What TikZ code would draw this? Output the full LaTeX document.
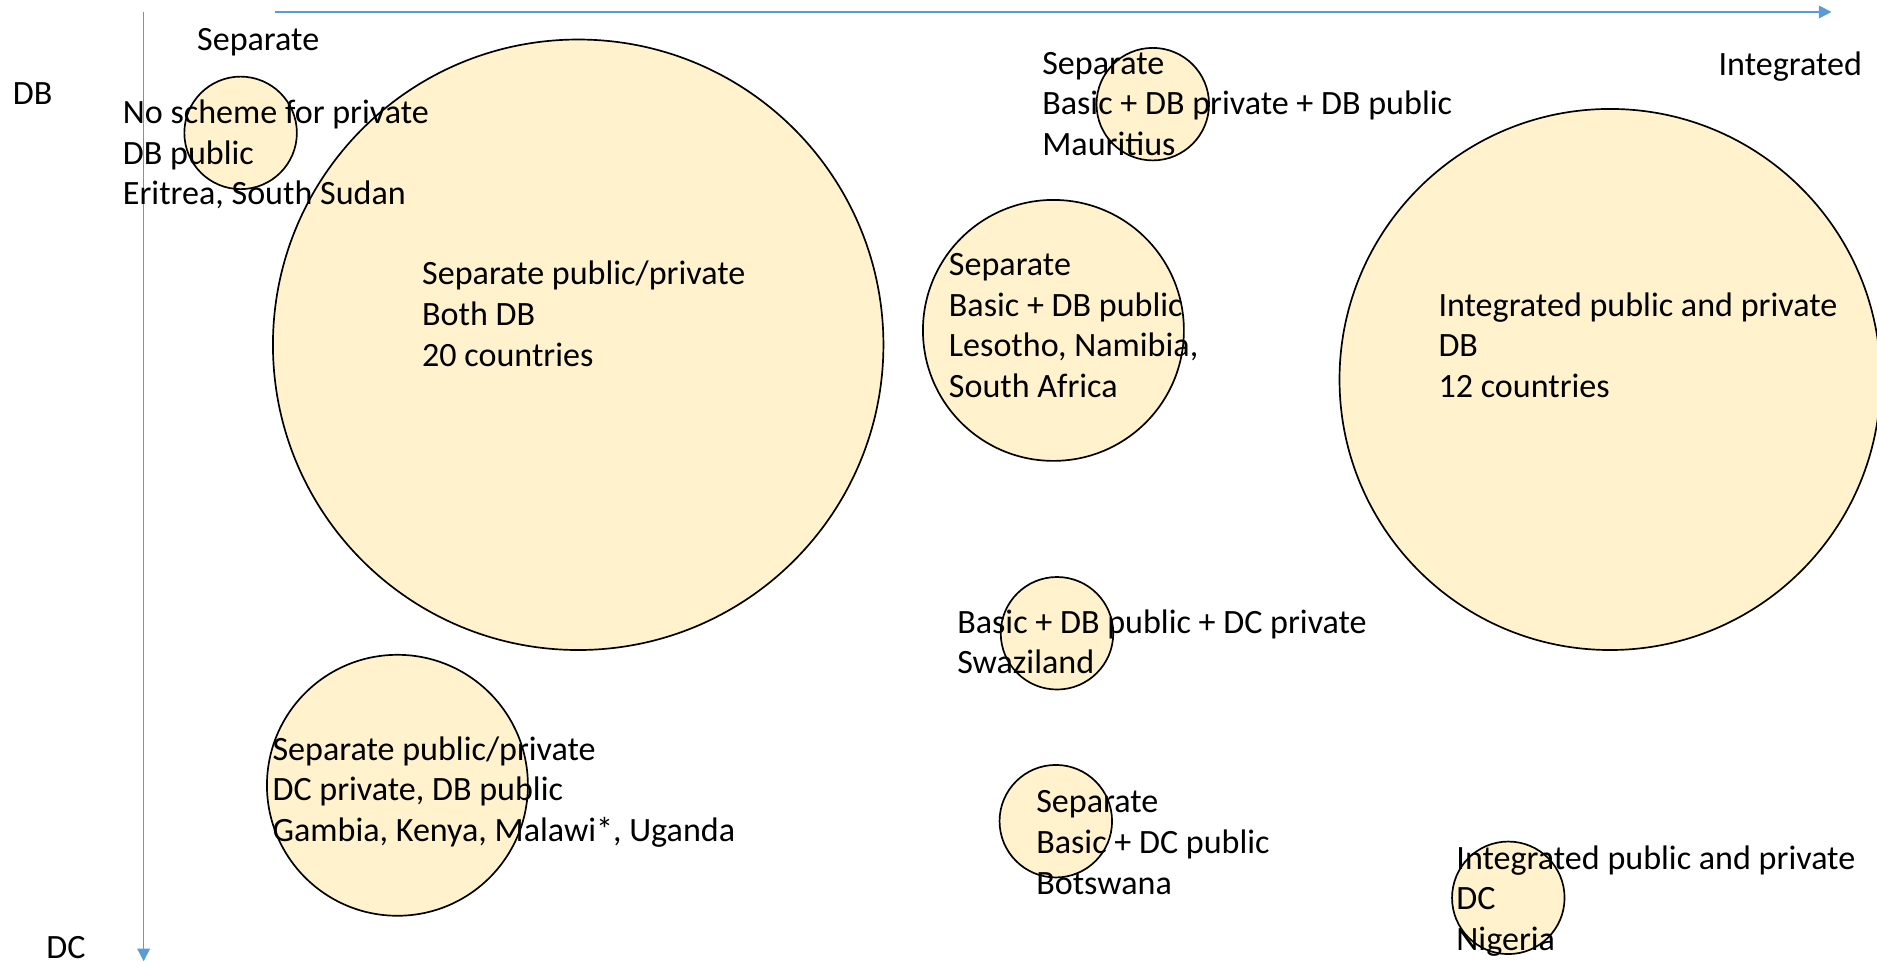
\documentclass[tikz,border=0pt]{standalone}
\usepackage{fontspec}
\setmainfont{Carlito}
\usetikzlibrary{arrows.meta, positioning}
\definecolor{bubfill}{HTML}{FFF2CC}
\definecolor{axblue}{HTML}{5B9BD5}

\begin{document}
\begin{tikzpicture}[
    x=0.1mm, y=-0.1mm,
    bub/.style={circle, draw=black, line width=0.4pt, fill=bubfill, inner sep=0pt, minimum size=#1},
    lbl/.style={anchor=base west, align=left, inner sep=0pt, font=\fontsize{8.1}{9.67}\selectfont},
    ax/.style={draw=axblue, line width=0.35pt, -{Triangle[width=3pt,length=3pt]}}
]
    \useasboundingbox (0,0) rectangle (1568,804);

    % axes
    \coordinate (vtop) at (120,10);
    \coordinate (vbot) at (120,803);
    \coordinate (hleft) at (230,10);
    \coordinate (hright) at (1530,10);
    \draw[ax] (vtop) -- (vbot);
    \draw[ax] (hleft) -- (hright);

    \node[lbl] (db)    at (10,87)    {DB};
    \node[lbl] (dc)    at (38,801)   {DC};
    \node[lbl] (sep)   at (164,42)   {Separate};
    \node[lbl] (integ) at (1435,63)  {Integrated};

    % bubbles
    \node[bub=9.4mm]  (eritrea)   at (201,111)  {};
    \node[bub=51mm]   (bothdb)    at (483,288)  {};
    \node[bub=9.4mm]  (mauritius) at (963,87)   {};
    \node[bub=21.8mm] (lesotho)   at (880,276)  {};
    \node[bub=45.2mm] (intdb)     at (1345,317) {};
    \node[bub=9.4mm]  (swazi)     at (883,529)  {};
    \node[bub=21.8mm] (kenya)     at (332,656)  {};
    \node[bub=9.4mm]  (botswana)  at (882,686)  {};
    \node[bub=9.4mm]  (nigeria)   at (1260,750) {};

    % bubble texts (anchored at the last line)
    \node[lbl] (eritreatxt)   at (102,171)  {No scheme for private\\DB public\\Eritrea, South Sudan};
    \node[lbl] (bothdbtxt)    at (352,306)  {Separate public/private\\Both DB\\20 countries};
    \node[lbl] (mauritiustxt) at (870,130)  {Separate\\Basic + DB private + DB public\\Mauritius};
    \node[lbl] (lesothotxt)   at (792,332)  {Separate\\Basic + DB public\\Lesotho, Namibia,\\South Africa};
    \node[lbl] (intdbtxt)     at (1201,332) {Integrated public and private\\DB\\12 countries};
    \node[lbl] (swazitxt)     at (799,563)  {Basic + DB public + DC private\\Swaziland};
    \node[lbl] (kenyatxt)     at (227,703)  {Separate public/private\\DC private, DB public\\Gambia, Kenya, Malawi*, Uganda};
    \node[lbl] (botswanatxt)  at (865,747)  {Separate\\Basic + DC public\\Botswana};
    \node[lbl] (nigeriatxt)   at (1216,794) {Integrated public and private\\DC\\Nigeria};
\end{tikzpicture}
\end{document}
